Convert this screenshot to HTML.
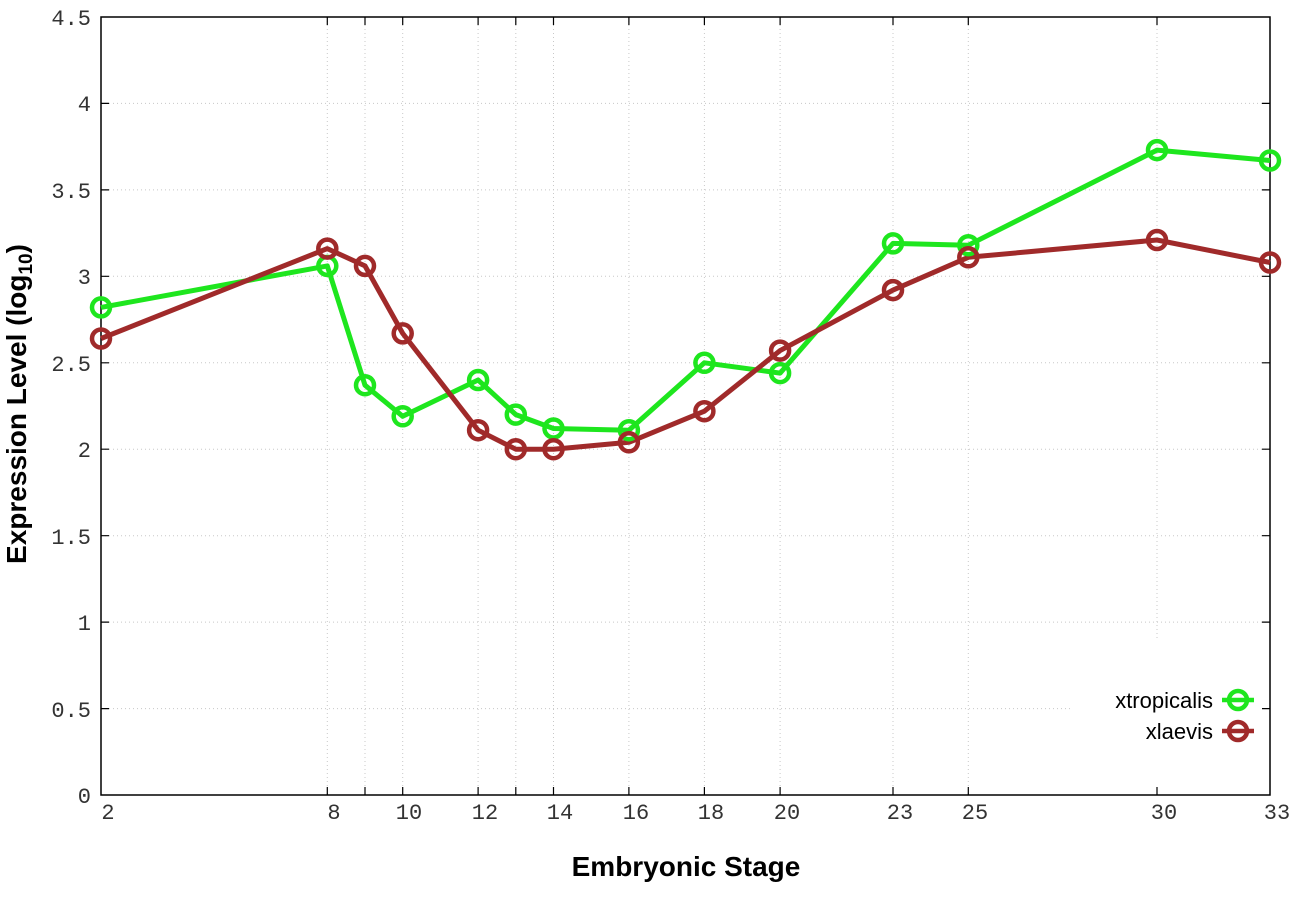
<!DOCTYPE html>
<html><head><style>
html,body{margin:0;padding:0;background:#fff}
svg{display:block}
</style></head><body>
<svg width="1296" height="907" xmlns="http://www.w3.org/2000/svg">
<rect width="1296" height="907" fill="#fff"/>
<g stroke="#c8c8c8" stroke-width="1" stroke-dasharray="1,3">
<line x1="101" y1="103.4" x2="1270" y2="103.4"/>
<line x1="101" y1="189.9" x2="1270" y2="189.9"/>
<line x1="101" y1="276.3" x2="1270" y2="276.3"/>
<line x1="101" y1="362.8" x2="1270" y2="362.8"/>
<line x1="101" y1="449.2" x2="1270" y2="449.2"/>
<line x1="101" y1="535.7" x2="1270" y2="535.7"/>
<line x1="101" y1="622.1" x2="1270" y2="622.1"/>
<line x1="101" y1="708.6" x2="1070" y2="708.6"/>
<line x1="327.3" y1="17" x2="327.3" y2="795"/>
<line x1="365" y1="17" x2="365" y2="795"/>
<line x1="402.7" y1="17" x2="402.7" y2="795"/>
<line x1="478.1" y1="17" x2="478.1" y2="795"/>
<line x1="515.8" y1="17" x2="515.8" y2="795"/>
<line x1="553.5" y1="17" x2="553.5" y2="795"/>
<line x1="628.9" y1="17" x2="628.9" y2="795"/>
<line x1="704.4" y1="17" x2="704.4" y2="795"/>
<line x1="780.1" y1="17" x2="780.1" y2="795"/>
<line x1="893" y1="17" x2="893" y2="795"/>
<line x1="968.3" y1="17" x2="968.3" y2="795"/>
<line x1="1157" y1="17" x2="1157" y2="640"/>
</g>
<g stroke="#000" stroke-width="1.2">
<path d="M101 103.4h8M101 189.9h8M101 276.3h8M101 362.8h8M101 449.2h8M101 535.7h8M101 622.1h8M101 708.6h8"/>
<path d="M1270 103.4h-8M1270 189.9h-8M1270 276.3h-8M1270 362.8h-8M1270 449.2h-8M1270 535.7h-8M1270 622.1h-8M1270 708.6h-8"/>
<path d="M327.3 795v-8M365 795v-8M402.7 795v-8M478.1 795v-8M515.8 795v-8M553.5 795v-8M628.9 795v-8M704.4 795v-8M780.1 795v-8M893 795v-8M968.3 795v-8M1157 795v-8"/>
<path d="M327.3 17v8M365 17v8M402.7 17v8M478.1 17v8M515.8 17v8M553.5 17v8M628.9 17v8M704.4 17v8M780.1 17v8M893 17v8M968.3 17v8M1157 17v8"/>
</g>
<rect x="101" y="17" width="1169" height="778" fill="none" stroke="#000" stroke-width="1.5"/>
<g font-family="Liberation Mono, monospace" font-size="22" fill="#333" text-anchor="end">
<text x="91" y="25">4.5</text>
<text x="91" y="111">4</text>
<text x="91" y="198">3.5</text>
<text x="91" y="284">3</text>
<text x="91" y="371">2.5</text>
<text x="91" y="457">2</text>
<text x="91" y="544">1.5</text>
<text x="91" y="630">1</text>
<text x="91" y="717">0.5</text>
<text x="91" y="803">0</text>
</g>
<g font-family="Liberation Mono, monospace" font-size="22" fill="#333" text-anchor="middle">
<text x="108" y="819">2</text>
<text x="334" y="819">8</text>
<text x="409" y="819">10</text>
<text x="485" y="819">12</text>
<text x="560" y="819">14</text>
<text x="636" y="819">16</text>
<text x="711" y="819">18</text>
<text x="787" y="819">20</text>
<text x="900" y="819">23</text>
<text x="975" y="819">25</text>
<text x="1164" y="819">30</text>
<text x="1277" y="819">33</text>
</g>
<text x="686" y="876" font-family="Liberation Sans, sans-serif" font-weight="bold" font-size="28" text-anchor="middle">Embryonic Stage</text>
<text transform="translate(26,404) rotate(-90)" font-family="Liberation Sans, sans-serif" font-weight="bold" font-size="28" text-anchor="middle">Expression Level (log<tspan font-size="19" dy="6">10</tspan><tspan dy="-6">)</tspan></text>
<g fill="none" stroke-width="5" stroke-linejoin="round">
<polyline stroke="#1ee61e" points="101,307.4 327.3,265.9 365,385.2 402.7,416.3 478.1,380 515.8,414.6 553.5,428.5 628.9,430.2 704.4,362.8 780.1,373.1 893,243.4 968.3,245.2 1157,150.1 1270,160.5"/>
<polyline stroke="#a02a2a" points="101,338.5 327.3,248.6 365,265.9 402.7,333.4 478.1,430.2 515.8,449.2 553.5,449.2 628.9,442.3 704.4,411.2 780.1,350.6 893,290.1 968.3,257.3 1157,240 1270,262.5"/>
</g>
<g fill="none" stroke-width="4.5" stroke="#1ee61e">
<circle cx="101" cy="307.4" r="9"/><circle cx="327.3" cy="265.9" r="9"/><circle cx="365" cy="385.2" r="9"/><circle cx="402.7" cy="416.3" r="9"/><circle cx="478.1" cy="380" r="9"/><circle cx="515.8" cy="414.6" r="9"/><circle cx="553.5" cy="428.5" r="9"/><circle cx="628.9" cy="430.2" r="9"/><circle cx="704.4" cy="362.8" r="9"/><circle cx="780.1" cy="373.1" r="9"/><circle cx="893" cy="243.4" r="9"/><circle cx="968.3" cy="245.2" r="9"/><circle cx="1157" cy="150.1" r="9"/><circle cx="1270" cy="160.5" r="9"/>
</g>
<g fill="none" stroke-width="4.5" stroke="#a02a2a">
<circle cx="101" cy="338.5" r="9"/><circle cx="327.3" cy="248.6" r="9"/><circle cx="365" cy="265.9" r="9"/><circle cx="402.7" cy="333.4" r="9"/><circle cx="478.1" cy="430.2" r="9"/><circle cx="515.8" cy="449.2" r="9"/><circle cx="553.5" cy="449.2" r="9"/><circle cx="628.9" cy="442.3" r="9"/><circle cx="704.4" cy="411.2" r="9"/><circle cx="780.1" cy="350.6" r="9"/><circle cx="893" cy="290.1" r="9"/><circle cx="968.3" cy="257.3" r="9"/><circle cx="1157" cy="240" r="9"/><circle cx="1270" cy="262.5" r="9"/>
</g>
<g font-family="Liberation Sans, sans-serif" font-size="22" fill="#000" text-anchor="end">
<text x="1213" y="708">xtropicalis</text>
<text x="1213" y="739">xlaevis</text>
</g>
<g stroke-width="4.5" fill="none">
<line x1="1222" y1="700" x2="1254" y2="700" stroke="#1ee61e"/>
<circle cx="1238" cy="700" r="9" stroke="#1ee61e"/>
<line x1="1222" y1="731" x2="1254" y2="731" stroke="#a02a2a"/>
<circle cx="1238" cy="731" r="9" stroke="#a02a2a"/>
</g>
</svg>
</body></html>
